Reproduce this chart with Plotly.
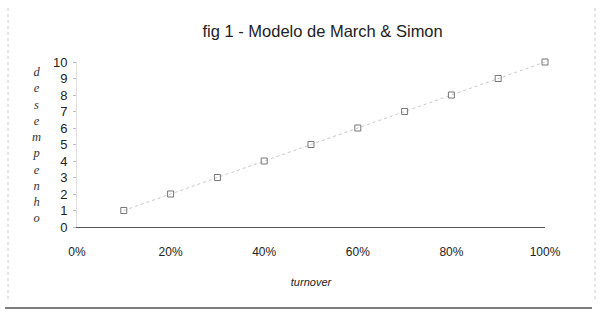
import plotly.graph_objects as go

turnover = [0.1, 0.2, 0.3, 0.4, 0.5, 0.6, 0.7, 0.8, 0.9, 1.0]
desempenho = [1, 2, 3, 4, 5, 6, 7, 8, 9, 10]
x_ticks = [0, 0.2, 0.4, 0.6, 0.8, 1.0]
x_labels = ["0%", "20%", "40%", "60%", "80%", "100%"]
y_ticks = list(range(0, 11))
y_title_letters = list("desempenho")

W, H = 603, 330
L, R, T, B = 77, 58, 62, 103
pw = W - L - R
ph = H - T - B

def px_x(p):
    return (p - L) / pw

def px_y(p):
    return (H - B - p) / ph

fig = go.Figure()
fig.add_trace(go.Scatter(
    x=turnover, y=desempenho, mode="lines+markers",
    line=dict(color="#c8c8c8", width=1, dash="dot"),
    marker=dict(symbol="square-open", size=6, color="#777777", line=dict(width=1)),
    cliponaxis=False, showlegend=False,
))

fig.update_layout(
    width=W, height=H,
    margin=dict(l=L, r=R, t=T, b=B),
    paper_bgcolor="white", plot_bgcolor="white",
    font=dict(family="Liberation Sans, Arial, sans-serif", color="#222222", size=12),
    title=dict(text="fig 1 - Modelo de March &amp; Simon", x=0.535, xanchor="center",
               y=1 - 31 / H, yanchor="middle", font=dict(size=16.5, color="#222222")),
    xaxis=dict(range=[0, 1], tickvals=x_ticks, ticktext=x_labels, showgrid=False,
               zeroline=False, showline=True, linecolor="#555555", linewidth=1.2,
               ticks="", ticklabelstandoff=13, tickfont=dict(size=12),
               title=dict(text="<i>turnover</i>", font=dict(size=11), standoff=20)),
    yaxis=dict(range=[0, 10], tickvals=y_ticks, showgrid=False, zeroline=False,
               showline=True, linecolor="#e0e0e0", linewidth=1, ticks="outside",
               ticklen=3, tickcolor="#bbbbbb", ticklabelstandoff=3, tickfont=dict(size=13)),
)

fig.add_annotation(
    text="<br>".join("<i>%s</i>" % c for c in y_title_letters),
    xref="paper", yref="paper", x=px_x(36), y=px_y(145), xanchor="center", yanchor="middle",
    showarrow=False, font=dict(family="Liberation Serif, Times New Roman, serif", size=12.5, color="#333333"),
)

# chart frame
fig.add_shape(type="line", xref="paper", yref="paper", x0=px_x(5), x1=px_x(592),
              y0=px_y(308), y1=px_y(308), line=dict(color="#555555", width=1.5))
fig.add_shape(type="line", xref="paper", yref="paper", x0=px_x(8), x1=px_x(8),
              y0=px_y(8), y1=px_y(300), line=dict(color="#cccccc", width=1, dash="dot"))
fig.add_shape(type="line", xref="paper", yref="paper", x0=px_x(595), x1=px_x(595),
              y0=px_y(8), y1=px_y(300), line=dict(color="#cccccc", width=1, dash="dot"))

fig.write_html("out.html")
